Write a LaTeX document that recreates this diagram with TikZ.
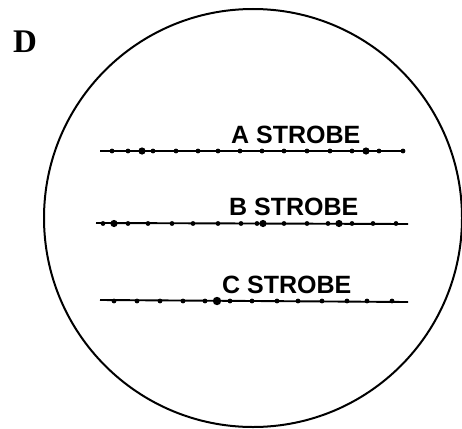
\documentclass[tikz,border=0pt]{standalone}
\usepackage{fontspec}
\setmainfont{Liberation Sans}
\newfontfamily\dfont{Liberation Serif}
\begin{document}
\begin{tikzpicture}[x=1pt,y=-1pt,
  scope line/.style={line width=1.9pt},
  tick dot/.style={fill=black},
  strobe label/.style={font=\fontsize{25}{25}\selectfont\bfseries, inner sep=0pt, anchor=base west}]
\useasboundingbox (0,0) rectangle (462,428);
\draw[line width=2pt] (253,218) circle (209);
\node[font=\fontsize{33}{33}\dfont\bfseries, inner sep=0pt] (D) at (25,42) {D};
% A strobe
\coordinate (a1) at (100,151); \coordinate (a2) at (404,151);
\draw[scope line] (a1) -- (a2);
\foreach \x in {112,128,153,176,198,218,240,262,284,307,330,352,379,403} \fill[tick dot] (\x,151) circle (2.4);
\foreach \x in {142,366} \fill[tick dot] (\x,151) circle (3.6);
\node[strobe label] (A) at (231,143) {A STROBE};
% B strobe
\coordinate (b1) at (96,223); \coordinate (b2) at (408,224);
\draw[scope line] (b1) -- (b2);
\foreach \x in {103,128,148,172,193,218,241,257,284,307,328,352,373,396} \fill[tick dot] (\x,223.5) circle (2.4);
\foreach \x in {114,263,339} \fill[tick dot] (\x,223.5) circle (3.6);
\node[strobe label] (B) at (229,215) {B STROBE};
% C strobe
\coordinate (c1) at (100,300); \coordinate (c2) at (408,302);
\draw[scope line] (c1) -- (c2);
\foreach \x in {114,137,160,183,205,230,252,277,298,322,347,367,392} \fill[tick dot] (\x,301) circle (2.4);
\foreach \x in {217} \fill[tick dot] (\x,301) circle (4.2);
\node[strobe label] (C) at (222,293) {C STROBE};
\end{tikzpicture}
\end{document}
